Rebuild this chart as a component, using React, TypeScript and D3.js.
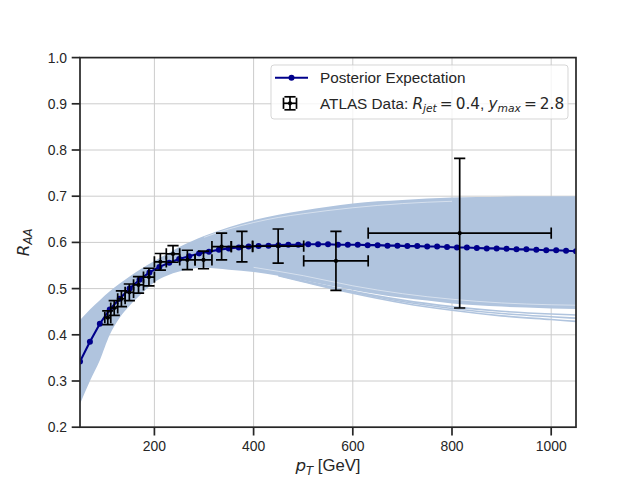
import { useEffect, useRef } from 'react';
import * as d3 from 'd3';

// Posterior expectation sampled every 20 GeV
const ptGrid = [
  50, 70, 90, 110, 130, 150, 170, 190, 210, 230, 250, 270, 290, 310, 330, 350, 370, 390, 410, 430,
  450, 470, 490, 510, 530, 550, 570, 590, 610, 630, 650, 670, 690, 710, 730, 750, 770, 790, 810, 830,
  850, 870, 890, 910, 930, 950, 970, 990, 1010, 1030, 1050,
];
const posteriorMean = [
  0.342, 0.385, 0.424, 0.455, 0.478, 0.500, 0.519, 0.535, 0.547, 0.556, 0.564, 0.570, 0.576, 0.580, 0.584, 0.587, 0.589, 0.591, 0.592, 0.593,
  0.594, 0.595, 0.595, 0.596, 0.596, 0.596, 0.595, 0.595, 0.595, 0.594, 0.594, 0.593, 0.593, 0.592, 0.592, 0.591, 0.591, 0.590, 0.589, 0.589,
  0.588, 0.587, 0.587, 0.586, 0.585, 0.585, 0.584, 0.583, 0.583, 0.582, 0.581,
];

// Posterior band envelope
const bandPt = [50, 70, 90, 110, 130, 150, 175, 200, 225, 250, 300, 350, 400, 450, 500, 550, 600, 650, 700, 750, 800, 850, 900, 950, 1000, 1050];
const bandUpper = [0.432, 0.455, 0.475, 0.494, 0.511, 0.526, 0.544, 0.560, 0.575, 0.590, 0.614, 0.633, 0.648, 0.660, 0.669, 0.677, 0.684, 0.689, 0.692, 0.695, 0.697, 0.698, 0.699, 0.700, 0.700, 0.700];
const bandLower = [0.250, 0.300, 0.345, 0.400, 0.437, 0.463, 0.490, 0.514, 0.528, 0.537, 0.545, 0.541, 0.536, 0.528, 0.518, 0.507, 0.497, 0.488, 0.480, 0.474, 0.468, 0.464, 0.461, 0.459, 0.457, 0.456];

// a few lower posterior samples that split off the band at high pT
const tailPt = [450, 500, 600, 700, 800, 900, 1000, 1050];
const tailA = [0.529, 0.517, 0.494, 0.475, 0.461, 0.451, 0.445, 0.443];
const tailB = [0.529, 0.516, 0.492, 0.472, 0.457, 0.446, 0.439, 0.436];
const tailC = [0.528, 0.515, 0.490, 0.469, 0.453, 0.441, 0.433, 0.429];

// thin white gaps between samples inside the band
const gapUpperPt = [300, 350, 400, 450, 500, 550, 600, 650, 700, 750, 800];
const gapUpper = [0.611, 0.629, 0.643, 0.654, 0.662, 0.669, 0.675, 0.680, 0.684, 0.687, 0.689];
const gapLowerPt = [400, 500, 600, 700, 800, 900, 1000, 1050];
const gapLower = [0.546, 0.528, 0.506, 0.489, 0.477, 0.469, 0.465, 0.464];

// ATLAS data, R = 0.4, |y| < 2.8
const atlasPt = [106, 119, 133.5, 149.5, 168, 189, 212, 237.5, 266.5, 299, 335.5, 376.5, 449.5, 566, 815.5];
const atlasLow = [100, 112, 126, 141, 158, 178, 200, 224, 251, 282, 316, 355, 398, 501, 631];
const atlasHigh = [112, 126, 141, 158, 178, 200, 224, 251, 282, 316, 355, 398, 501, 631, 1000];
const atlasRaa = [0.437, 0.458, 0.478, 0.492, 0.508, 0.525, 0.558, 0.575, 0.562, 0.562, 0.591, 0.591, 0.592, 0.560, 0.620];
const atlasErr = [0.015, 0.016, 0.017, 0.018, 0.018, 0.019, 0.018, 0.018, 0.021, 0.019, 0.029, 0.033, 0.037, 0.064, 0.162];

const xTicks = [200, 400, 600, 800, 1000];
const yTicks = [0.2, 0.3, 0.4, 0.5, 0.6, 0.7, 0.8, 0.9, 1.0];

const SANS = '"Liberation Sans", Arial, sans-serif';
const MATH = '"DejaVu Sans", sans-serif';
const INK = '#262626';
const BAND = '#b0c4de';
const NAVY = '#00008b';

export default function App() {
  const svgRef = useRef<SVGSVGElement>(null);

  useEffect(() => {
    if (!svgRef.current) return;
    const svg = d3.select(svgRef.current);
    svg.selectAll('*').remove();

    const width = 640;
    const height = 480;
    const left = 80, right = 576, top = 57.6, bottom = 427.2;

    const x = d3.scaleLinear().domain([50, 1050]).range([left, right]);
    const y = d3.scaleLinear().domain([0.2, 1.0]).range([bottom, top]);

    svg.attr('width', width).attr('height', height);
    svg.append('rect').attr('width', width).attr('height', height).attr('fill', 'white');

    svg.append('defs').append('clipPath').attr('id', 'plot-area')
      .append('rect')
      .attr('x', left).attr('y', top)
      .attr('width', right - left).attr('height', bottom - top);

    // Grid
    const grid = svg.append('g').attr('stroke', '#cccccc').attr('stroke-width', 1);
    grid.selectAll('.gx').data(xTicks).enter().append('line')
      .attr('x1', d => x(d)).attr('x2', d => x(d))
      .attr('y1', top).attr('y2', bottom);
    grid.selectAll('.gy').data(yTicks).enter().append('line')
      .attr('x1', left).attr('x2', right)
      .attr('y1', d => y(d)).attr('y2', d => y(d));

    const plot = svg.append('g').attr('clip-path', 'url(#plot-area)');

    // Posterior band
    const bandData = bandPt.map((p, i) => ({ p, lo: bandLower[i], hi: bandUpper[i] }));
    const area = d3.area<{ p: number; lo: number; hi: number }>()
      .x(d => x(d.p))
      .y0(d => y(d.lo))
      .y1(d => y(d.hi))
      .curve(d3.curveMonotoneX);
    plot.append('path').datum(bandData).attr('d', area).attr('fill', BAND);

    const curve = d3.line<[number, number]>()
      .x(d => x(d[0]))
      .y(d => y(d[1]))
      .curve(d3.curveMonotoneX);

    [tailA, tailB, tailC].forEach(vals => {
      plot.append('path')
        .datum(tailPt.map((p, i) => [p, vals[i]] as [number, number]))
        .attr('d', curve)
        .attr('fill', 'none')
        .attr('stroke', BAND)
        .attr('stroke-width', 1.6);
    });

    plot.append('path')
      .datum(gapUpperPt.map((p, i) => [p, gapUpper[i]] as [number, number]))
      .attr('d', curve)
      .attr('fill', 'none')
      .attr('stroke', 'white')
      .attr('stroke-opacity', 0.8)
      .attr('stroke-width', 0.6);
    plot.append('path')
      .datum(gapLowerPt.map((p, i) => [p, gapLower[i]] as [number, number]))
      .attr('d', curve)
      .attr('fill', 'none')
      .attr('stroke', 'white')
      .attr('stroke-opacity', 0.8)
      .attr('stroke-width', 0.6);

    // Posterior expectation
    const meanData = ptGrid.map((p, i) => [p, posteriorMean[i]] as [number, number]);
    plot.append('path')
      .datum(meanData)
      .attr('d', d3.line<[number, number]>().x(d => x(d[0])).y(d => y(d[1])))
      .attr('fill', 'none')
      .attr('stroke', NAVY)
      .attr('stroke-width', 2.1);
    plot.selectAll('.mean-dot').data(meanData).enter().append('circle')
      .attr('cx', d => x(d[0])).attr('cy', d => y(d[1]))
      .attr('r', 3).attr('fill', NAVY);

    // ATLAS error bars
    const cap = 5.6;
    const eb = plot.append('g').attr('stroke', 'black').attr('stroke-width', 1.7);
    atlasPt.forEach((p, i) => {
      const cx = x(p), cy = y(atlasRaa[i]);
      const x0 = x(atlasLow[i]), x1 = x(atlasHigh[i]);
      const y0 = y(atlasRaa[i] - atlasErr[i]), y1 = y(atlasRaa[i] + atlasErr[i]);
      eb.append('line').attr('x1', x0).attr('x2', x1).attr('y1', cy).attr('y2', cy);
      eb.append('line').attr('x1', cx).attr('x2', cx).attr('y1', y0).attr('y2', y1);
      eb.append('line').attr('x1', x0).attr('x2', x0).attr('y1', cy - cap).attr('y2', cy + cap);
      eb.append('line').attr('x1', x1).attr('x2', x1).attr('y1', cy - cap).attr('y2', cy + cap);
      eb.append('line').attr('x1', cx - cap).attr('x2', cx + cap).attr('y1', y0).attr('y2', y0);
      eb.append('line').attr('x1', cx - cap).attr('x2', cx + cap).attr('y1', y1).attr('y2', y1);
    });
    plot.selectAll('.atlas-dot').data(atlasPt).enter().append('circle')
      .attr('cx', d => x(d)).attr('cy', (_d, i) => y(atlasRaa[i]))
      .attr('r', 2.1).attr('fill', 'black');

    // Spines
    svg.append('rect')
      .attr('x', left).attr('y', top)
      .attr('width', right - left).attr('height', bottom - top)
      .attr('fill', 'none').attr('stroke', INK).attr('stroke-width', 1.7);

    // Ticks + labels
    const tickLen = 8.3;
    const axes = svg.append('g');
    axes.selectAll('.xt').data(xTicks).enter().append('line')
      .attr('x1', d => x(d)).attr('x2', d => x(d))
      .attr('y1', bottom).attr('y2', bottom + tickLen)
      .attr('stroke', INK).attr('stroke-width', 1.7);
    axes.selectAll('.xl').data(xTicks).enter().append('text')
      .attr('x', d => x(d)).attr('y', 450.5)
      .attr('text-anchor', 'middle')
      .style('font-family', SANS).style('font-size', '13.9px').style('fill', INK)
      .text(d => d);
    axes.selectAll('.yt').data(yTicks).enter().append('line')
      .attr('x1', left - tickLen).attr('x2', left)
      .attr('y1', d => y(d)).attr('y2', d => y(d))
      .attr('stroke', INK).attr('stroke-width', 1.7);
    axes.selectAll('.yl').data(yTicks).enter().append('text')
      .attr('x', 67).attr('y', d => y(d)).attr('dy', '0.36em')
      .attr('text-anchor', 'end')
      .style('font-family', SANS).style('font-size', '13.9px').style('fill', INK)
      .text(d => d3.format('.1f')(d));

    // Axis labels
    const xl = svg.append('text')
      .attr('x', (left + right) / 2).attr('y', 471)
      .attr('text-anchor', 'middle')
      .style('font-size', '16.7px').style('fill', INK);
    xl.append('tspan').style('font-family', MATH).style('font-style', 'italic').text('p');
    xl.append('tspan').attr('dy', 3.5).style('font-family', MATH).style('font-style', 'italic')
      .style('font-size', '11.7px').text('T');
    xl.append('tspan').attr('dy', -3.5).style('font-family', SANS).text('\u00a0[GeV]');

    const yl = svg.append('text')
      .attr('transform', `translate(28.5,${(top + bottom) / 2}) rotate(-90)`)
      .attr('text-anchor', 'middle')
      .style('font-size', '16.7px').style('fill', INK);
    yl.append('tspan').style('font-family', MATH).style('font-style', 'italic').text('R');
    yl.append('tspan').attr('dy', 3.5).style('font-family', MATH).style('font-style', 'italic')
      .style('font-size', '11.7px').text('AA');

    // Legend
    const lg = svg.append('g');
    lg.append('rect')
      .attr('x', 271).attr('y', 65).attr('width', 297).attr('height', 54).attr('rx', 3)
      .attr('fill', 'white').attr('fill-opacity', 0.8)
      .attr('stroke', '#cccccc').attr('stroke-opacity', 0.8).attr('stroke-width', 1);
    lg.append('line').attr('x1', 275).attr('x2', 308).attr('y1', 77.7).attr('y2', 77.7)
      .attr('stroke', NAVY).attr('stroke-width', 2.1);
    lg.append('circle').attr('cx', 291.5).attr('cy', 77.7).attr('r', 3).attr('fill', NAVY);
    lg.append('text').attr('x', 320).attr('y', 82.8)
      .style('font-family', SANS).style('font-size', '15.3px').style('fill', INK)
      .text('Posterior Expectation');

    const mx = 290, my = 103.3, arm = 6.5;
    const lm = lg.append('g').attr('stroke', 'black').attr('stroke-width', 1.7);
    lm.append('line').attr('x1', mx - arm).attr('x2', mx + arm).attr('y1', my).attr('y2', my);
    lm.append('line').attr('x1', mx).attr('x2', mx).attr('y1', my - arm).attr('y2', my + arm);
    lm.append('line').attr('x1', mx - arm).attr('x2', mx - arm).attr('y1', my - cap).attr('y2', my + cap);
    lm.append('line').attr('x1', mx + arm).attr('x2', mx + arm).attr('y1', my - cap).attr('y2', my + cap);
    lm.append('line').attr('x1', mx - cap).attr('x2', mx + cap).attr('y1', my - arm).attr('y2', my - arm);
    lm.append('line').attr('x1', mx - cap).attr('x2', mx + cap).attr('y1', my + arm).attr('y2', my + arm);
    lg.append('circle').attr('cx', mx).attr('cy', my).attr('r', 2.1).attr('fill', 'black');

    const t2 = lg.append('text').attr('x', 320).attr('y', 108.5)
      .style('font-size', '15.3px').style('fill', INK);
    t2.append('tspan').style('font-family', SANS).text('ATLAS Data: ');
    t2.append('tspan').style('font-family', MATH).style('font-style', 'italic').text('R');
    t2.append('tspan').attr('dy', 3.2).style('font-family', MATH).style('font-style', 'italic')
      .style('font-size', '10.7px').text('jet');
    t2.append('tspan').attr('dy', -3.2).style('font-family', MATH).text('\u2009=\u20090.4');
    t2.append('tspan').style('font-family', SANS).text(', ');
    t2.append('tspan').style('font-family', MATH).style('font-style', 'italic').text('y');
    t2.append('tspan').attr('dy', 3.2).style('font-family', MATH).style('font-style', 'italic')
      .style('font-size', '10.7px').text('max');
    t2.append('tspan').attr('dy', -3.2).style('font-family', MATH).text('\u2009=\u20092.8');
  }, []);

  return (
    <div style={{ position: 'absolute', left: 0, top: 0 }}>
      <svg ref={svgRef} style={{ display: 'block' }} />
    </div>
  );
}
